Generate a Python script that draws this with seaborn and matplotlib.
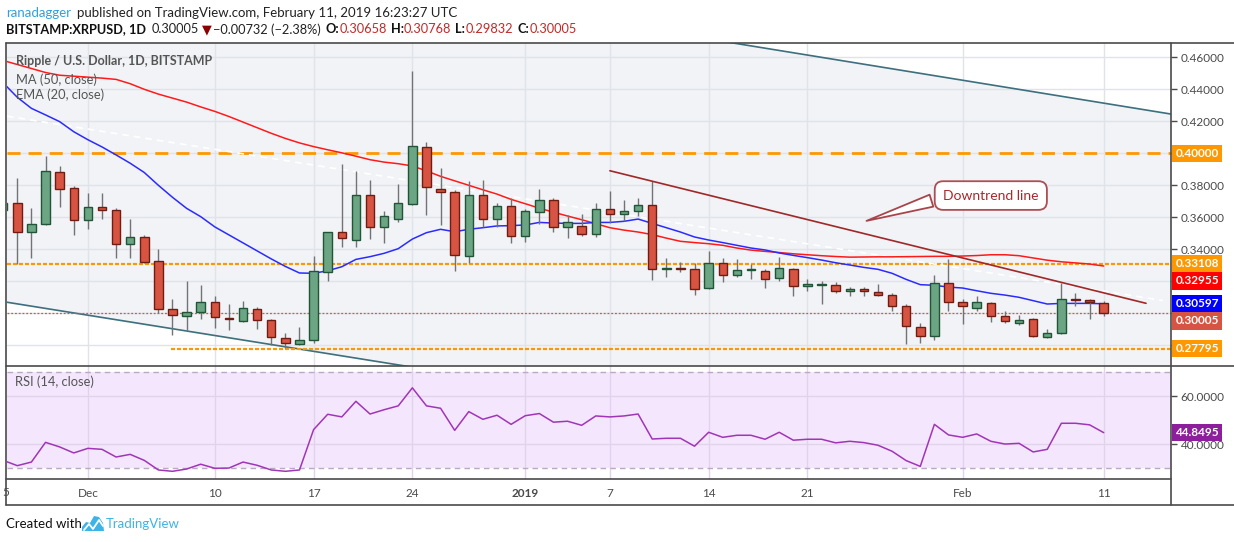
import numpy as np
import pandas as pd
import matplotlib
matplotlib.use('Agg')
import matplotlib.pyplot as plt
import matplotlib.transforms as mtrans
from matplotlib.lines import Line2D
from matplotlib.patches import Polygon
import seaborn as sns

# XRP/USD daily candles, 25 Nov 2018 .. 11 Feb 2019
dates = pd.date_range('2018-11-25', '2019-02-11', freq='D')
opens = [0.3646, 0.3687, 0.3510, 0.3556, 0.3881, 0.3781, 0.3581, 0.3662, 0.3643, 0.3431,
         0.3475, 0.3325, 0.3025, 0.2981, 0.3006, 0.3069, 0.2968, 0.2950, 0.3025, 0.2956,
         0.2843, 0.2806, 0.2831, 0.3256, 0.3506, 0.3456, 0.3737, 0.3537, 0.3587, 0.3681,
         0.4037, 0.3775, 0.3756, 0.3356, 0.3737, 0.3587, 0.3668, 0.3481, 0.3631, 0.3706,
         0.3537, 0.3543, 0.3493, 0.3650, 0.3618, 0.3637, 0.3675, 0.3277, 0.3282, 0.3275,
         0.3156, 0.3312, 0.3237, 0.3268, 0.3262, 0.3218, 0.3275, 0.3168, 0.3175, 0.3175,
         0.3137, 0.3150, 0.3131, 0.3112, 0.3043, 0.2912, 0.2856, 0.3187, 0.3068, 0.3031,
         0.3062, 0.2981, 0.2937, 0.2962, 0.2850, 0.2875, 0.3083, 0.3081, 0.30658]
highs = [0.3720, 0.3846, 0.3658, 0.3983, 0.3921, 0.3796, 0.3750, 0.3750, 0.3656, 0.3589,
         0.3489, 0.3402, 0.3089, 0.3202, 0.3177, 0.3106, 0.3058, 0.3077, 0.3037, 0.2962,
         0.2875, 0.2912, 0.3360, 0.3508, 0.3933, 0.3889, 0.3833, 0.3639, 0.3808, 0.4514,
         0.4071, 0.3908, 0.3768, 0.3825, 0.3833, 0.3687, 0.3718, 0.3650, 0.3775, 0.3718,
         0.3612, 0.3618, 0.3687, 0.3762, 0.3706, 0.3718, 0.3825, 0.3343, 0.3318, 0.3312,
         0.3389, 0.3343, 0.3337, 0.3306, 0.3275, 0.3350, 0.3281, 0.3212, 0.3200, 0.3193,
         0.3162, 0.3162, 0.3181, 0.3125, 0.3056, 0.2937, 0.3237, 0.3337, 0.3087, 0.3106,
         0.3068, 0.3012, 0.2987, 0.2968, 0.2900, 0.3187, 0.3125, 0.3087, 0.30768]
lows = [0.3620, 0.3308, 0.3348, 0.3550, 0.3666, 0.3491, 0.3529, 0.3591, 0.3348, 0.3348,
        0.3315, 0.3000, 0.2862, 0.2896, 0.2962, 0.2910, 0.2898, 0.2944, 0.2904, 0.2802,
        0.2781, 0.2804, 0.2812, 0.3204, 0.3416, 0.3416, 0.3462, 0.3441, 0.3568, 0.3675,
        0.3616, 0.3554, 0.3262, 0.3312, 0.3541, 0.3541, 0.3437, 0.3443, 0.3556, 0.3506,
        0.3468, 0.3481, 0.3475, 0.3562, 0.3575, 0.3606, 0.3206, 0.3229, 0.3256, 0.3112,
        0.3150, 0.3193, 0.3225, 0.3212, 0.3156, 0.3200, 0.3106, 0.3137, 0.3056, 0.3125,
        0.3106, 0.3106, 0.3110, 0.3012, 0.2806, 0.2812, 0.2831, 0.3012, 0.2931, 0.3012,
        0.2943, 0.2937, 0.2925, 0.2850, 0.2848, 0.2868, 0.3043, 0.2962, 0.29832]
closes = [0.3687, 0.3510, 0.3556, 0.3887, 0.3775, 0.3581, 0.3662, 0.3643, 0.3431, 0.3475,
          0.3318, 0.3025, 0.2987, 0.3006, 0.3069, 0.2975, 0.2966, 0.3031, 0.2956, 0.2850,
          0.2812, 0.2831, 0.3262, 0.3506, 0.3468, 0.3737, 0.3537, 0.3606, 0.3687, 0.4043,
          0.3787, 0.3756, 0.3362, 0.3737, 0.3587, 0.3668, 0.3481, 0.3637, 0.3706, 0.3537,
          0.3568, 0.3493, 0.3650, 0.3618, 0.3637, 0.3675, 0.3275, 0.3280, 0.3279, 0.3150,
          0.3312, 0.3237, 0.3268, 0.3271, 0.3212, 0.3281, 0.3168, 0.3181, 0.3177, 0.3137,
          0.3150, 0.3137, 0.3112, 0.3043, 0.2918, 0.2856, 0.3187, 0.3068, 0.3043, 0.3068,
          0.2981, 0.2950, 0.2956, 0.2856, 0.2875, 0.3087, 0.3081, 0.3068, 0.30005]

ema20 = [0.4440, 0.4350, 0.4281, 0.4240, 0.4198, 0.4135, 0.4085, 0.4040, 0.3990, 0.3938,
         0.3880, 0.3800, 0.3725, 0.3656, 0.3604, 0.3540, 0.3490, 0.3440, 0.3390, 0.3340,
         0.3293, 0.3252, 0.3250, 0.3266, 0.3291, 0.3337, 0.3354, 0.3375, 0.3404, 0.3464,
         0.3504, 0.3525, 0.3510, 0.3525, 0.3535, 0.3546, 0.3548, 0.3552, 0.3568, 0.3564,
         0.3562, 0.3562, 0.3568, 0.3568, 0.3575, 0.3589, 0.3562, 0.3535, 0.3508, 0.3477,
         0.3458, 0.3442, 0.3425, 0.3408, 0.3396, 0.3377, 0.3362, 0.3348, 0.3333, 0.3316,
         0.3302, 0.3287, 0.3275, 0.3250, 0.3212, 0.3179, 0.3175, 0.3164, 0.3158, 0.3141,
         0.3125, 0.3114, 0.3100, 0.3079, 0.3058, 0.3062, 0.3062, 0.3062, 0.30597]
ma50 = [0.4580, 0.4555, 0.4530, 0.4505, 0.4488, 0.4482, 0.4476, 0.4470, 0.4462, 0.4435,
        0.4400, 0.4370, 0.4345, 0.4320, 0.4290, 0.4262, 0.4230, 0.4195, 0.4160, 0.4125,
        0.4093, 0.4065, 0.4042, 0.4022, 0.4003, 0.3982, 0.3960, 0.3945, 0.3935, 0.3921,
        0.3890, 0.3856, 0.3828, 0.3800, 0.3772, 0.3745, 0.3712, 0.3685, 0.3657, 0.3632,
        0.3608, 0.3585, 0.3560, 0.3535, 0.3520, 0.3508, 0.3492, 0.3470, 0.3450, 0.3442,
        0.3435, 0.3425, 0.3408, 0.3395, 0.3387, 0.3380, 0.3372, 0.3366, 0.3360, 0.3355,
        0.3351, 0.3352, 0.3353, 0.3353, 0.3354, 0.3355, 0.3356, 0.3356, 0.3358, 0.3361,
        0.3366, 0.3366, 0.3360, 0.3346, 0.3332, 0.3322, 0.3315, 0.3308, 0.32955]
rsi = [33.3, 31.1, 32.6, 40.8, 38.9, 36.4, 38.3, 37.9, 34.7, 35.8,
       33.3, 29.3, 28.75, 29.7, 31.7, 30.0, 30.1, 32.6, 31.25, 29.3,
       28.75, 29.3, 46.1, 52.5, 51.4, 57.9, 52.6, 54.4, 56.0, 63.5,
       56.0, 55.0, 45.8, 53.6, 50.4, 52.1, 48.3, 51.9, 52.8, 49.2,
       49.6, 47.9, 51.8, 51.4, 51.8, 52.6, 42.2, 42.5, 42.5, 39.2,
       45.0, 42.9, 43.75, 43.75, 42.1, 45.0, 41.7, 42.1, 42.1, 40.6,
       41.25, 40.7, 39.6, 37.1, 33.2, 30.8, 48.3, 43.9, 42.9, 44.3,
       41.25, 40.1, 40.4, 36.8, 37.9, 48.75, 48.75, 48.1, 44.8495]

# drawn levels and trend lines (day index, price)
level_400 = 0.40000
level_331 = 0.33108
level_278 = 0.27795
level_278_from = 11.9
downtrend_x = [43.0, 81.0]
downtrend_y = [0.3891, 0.30625]
channel_x = [0, 83]
channel_top = [0.5430, 0.4242]
channel_bot = [0.3073, 0.1901]
white_x = [0.27, 82.2]
white_y = [0.4232, 0.3080]

tick_days = [6, 15, 22, 29, 37, 43, 50, 57, 68, 78]
tick_labels = ['Dec', '10', '17', '24', '2019', '7', '14', '21', 'Feb', '11']

df = pd.DataFrame({'day': np.arange(len(dates)), 'open': opens, 'high': highs,
                   'low': lows, 'close': closes, 'ema20': ema20, 'ma50': ma50, 'rsi': rsi})

sns.set_theme(style='white')
plt.rcParams['font.family'] = ['Lato', 'DejaVu Sans']

GREEN, GREEN_EDGE = '#6ba583', '#225437'
RED, RED_EDGE = '#d75442', '#6f1d12'
WICK = '#737375'
ORANGE = '#ff9800'
TXT = '#4a4a4a'
GRID = '#e1e3ea'

W, H = 1234, 542
fig = plt.figure(figsize=(W / 100, H / 100), dpi=100)
fig.patch.set_facecolor('white')

def fx(px):
    return px / W

def fy(py):
    return 1 - py / H

ax_p = fig.add_axes([fx(7), fy(365.5), fx(1171) - fx(7), fy(42.7) - fy(365.5)])
ax_r = fig.add_axes([fx(7), fy(478.5), fx(1171) - fx(7), fy(366) - fy(478.5)])

# ---- price panel ----
ax_p.set_facecolor('white')
ax_p.fill_between(channel_x, channel_bot, channel_top, color='#f1f3f6', zorder=0, lw=0)
ax_p.plot(channel_x, channel_top, color='#3d6f7d', lw=1.2, zorder=1)
ax_p.plot(channel_x, channel_bot, color='#3d6f7d', lw=1.2, zorder=1)

ax_p.axhline(level_400, color=ORANGE, lw=2, ls=(0, (4.7, 2.9)), zorder=1.5)
ax_p.axhline(level_331, color=ORANGE, lw=1.6, ls=(0, (1.8, 0.9)), zorder=1.5)
ax_p.hlines(level_278, level_278_from, 90, color=ORANGE, lw=1.6, ls=(0, (1.8, 0.9)), zorder=1.5)
ax_p.axhline(closes[-1], color=RED, lw=0.9, ls=(0, (1.5, 1.5)), zorder=1.5)
ax_p.plot(white_x, white_y, color='white', lw=1.2, ls=(0, (4, 3)), zorder=1.6)

sns.lineplot(data=df, x='day', y='ma50', ax=ax_p, color='#ff1a1a', lw=1.1, zorder=2)
sns.lineplot(data=df, x='day', y='ema20', ax=ax_p, color='#2b2bff', lw=1.1, zorder=2)

up = df['close'] >= df['open']
body_h = (df['close'] - df['open']).abs().clip(lower=0.0006)
body_b = df[['open', 'close']].min(axis=1)
ax_p.vlines(df['day'], df['low'], df['high'], color=WICK, lw=1, zorder=3)
ax_p.bar(df['day'][up], body_h[up], bottom=body_b[up], width=0.6,
         color=GREEN, edgecolor=GREEN_EDGE, lw=1, zorder=4)
ax_p.bar(df['day'][~up], body_h[~up], bottom=body_b[~up], width=0.6,
         color=RED, edgecolor=RED_EDGE, lw=1, zorder=4)

ax_p.plot(downtrend_x, downtrend_y, color='#a02828', lw=1.2, zorder=5)

ax_p.annotate('Downtrend line', xy=(61.0, 0.35725), xytext=(70.0, 0.3736),
              ha='center', va='center', fontsize=10, color='#a8282d', zorder=8,
              bbox=dict(boxstyle='round,pad=0.6,rounding_size=0.6', fc='white', ec='#a8454a', lw=1.3, alpha=0.95),
              arrowprops=dict(arrowstyle='wedge,tail_width=0.9,shrink_factor=0.5', fc='white',
                              ec='#a8454a', lw=1.3, relpos=(0.05, 0.5)))

ax_p.set_xlim(0.27, 82.77)
ax_p.set_ylim(0.26738, 0.46913)
ax_p.set_xticks(tick_days)
ax_p.set_xticklabels([])
ytick_vals = np.round(np.arange(0.28, 0.4601, 0.02), 2)
ax_p.set_yticks(ytick_vals)
# 0.28-0.32 and 0.40 are hidden behind the coloured price tags
ax_p.set_yticklabels(['' if (v < 0.335 or abs(v - 0.40) < 1e-9) else '%.5f' % v for v in ytick_vals])
ax_p.yaxis.tick_right()
ax_p.tick_params(axis='y', length=4, width=1, color=TXT, labelsize=8.5, labelcolor=TXT, pad=3)
ax_p.tick_params(axis='x', length=0)
ax_p.grid(True, color=GRID, lw=1, zorder=0.5)
ax_p.set_axisbelow(True)
ax_p.set_xlabel('')
ax_p.set_ylabel('')
for s in ax_p.spines.values():
    s.set_visible(False)

trans_p = mtrans.blended_transform_factory(ax_p.transAxes, ax_p.transData)
price_tags = [(0.40000, '0.40000', ORANGE, 0.0),
              (0.33108, '0.33108', ORANGE, 0.0),
              (0.32955, '0.32955', '#ff0000', -0.0092),
              (0.30597, '0.30597', '#0000ff', 0.0),
              (0.30005, '0.30005', '#d75442', -0.0048),
              (0.27795, '0.27795', ORANGE, 0.0)]
for val, txt, col, nudge in price_tags:
    ax_p.text(1.0 + 4.5 / 1164, val + nudge, txt, transform=trans_p, ha='left', va='center',
              fontsize=8.5, color='white', fontweight='bold', clip_on=False, zorder=10,
              bbox=dict(boxstyle='square,pad=0.28', fc=col, ec='none'))

ax_p.text(8.8 / 1164, 0.45769, 'Ripple / U.S. Dollar, 1D, BITSTAMP', transform=trans_p,
          fontsize=9, color='#555555', fontweight='bold', va='center')
ax_p.text(8.8 / 1164, 0.44625, 'MA (50, close)', transform=trans_p,
          fontsize=9.3, color='#555555', va='center')
ax_p.text(8.8 / 1164, 0.43688, 'EMA (20, close)', transform=trans_p,
          fontsize=9.3, color='#555555', va='center')

# ---- RSI panel ----
ax_r.set_facecolor('white')
ax_r.axhspan(30, 70, color='#f4e6fc', zorder=0, lw=0)
ax_r.axhline(70, color='#b9a9c2', lw=1, ls=(0, (4, 3)), zorder=1)
ax_r.axhline(30, color='#b9a9c2', lw=1, ls=(0, (4, 3)), zorder=1)
sns.lineplot(data=df, x='day', y='rsi', ax=ax_r, color='#a035b8', lw=1.1, zorder=3)
ax_r.set_xlim(0.27, 82.77)
ax_r.set_ylim(25.75, 72.6)
ax_r.set_xticks(tick_days)
ax_r.set_xticklabels(tick_labels)
for lab in ax_r.get_xticklabels():
    if lab.get_text() == '2019':
        lab.set_fontweight('bold')
ax_r.set_yticks([40, 60])
ax_r.set_yticklabels(['40.0000', '60.0000'])
ax_r.yaxis.tick_right()
ax_r.tick_params(axis='y', length=4, width=1, color=TXT, labelsize=8.5, labelcolor=TXT, pad=3)
ax_r.tick_params(axis='x', length=0, labelsize=8.5, labelcolor=TXT, pad=7)
ax_r.grid(True, color='#e2d3ec', lw=1, zorder=0.5)
ax_r.set_axisbelow(True)
ax_r.set_xlabel('')
ax_r.set_ylabel('')
for s in ax_r.spines.values():
    s.set_visible(False)
trans_r = mtrans.blended_transform_factory(ax_r.transAxes, ax_r.transData)
ax_r.text(8.3 / 1164, 66.0, 'RSI (14, close)', transform=trans_r,
          fontsize=9.3, color='#555555', va='center')
ax_r.text(1.0 + 4.5 / 1164, rsi[-1], '%.4f' % rsi[-1], transform=trans_r, ha='left', va='center',
          fontsize=8.5, color='white', fontweight='bold', clip_on=False, zorder=10,
          bbox=dict(boxstyle='square,pad=0.28', fc='#8e1f9c', ec='none'))

# the "25" (Nov 25) label is cut by the left edge, only its "5" shows
fig.text(fx(5.5), fy(493), '5', ha='center', va='center', fontsize=8.5, color=TXT)

# ---- frame ----
FRAME = '#4a4a4a'
for x0, y0, x1, y1 in [(6.3, 42.7, 1234, 42.7), (6.3, 366, 1234, 366), (6.3, 478.5, 1171, 478.5),
                       (6.3, 505, 1234, 505), (6.3, 42.7, 6.3, 505), (1171, 42.7, 1171, 505)]:
    fig.add_artist(Line2D([fx(x0), fx(x1)], [fy(y0), fy(y1)], color=FRAME, lw=1.2))

# ---- header ----
fig.text(fx(6), fy(13.3), 'ranadagger', color='#2f9fe0', fontsize=9.5, va='center')
fig.text(fx(77), fy(13.3), 'published on TradingView.com, February 11, 2019 16:23:27 UTC',
         color='#222222', fontsize=9.5, va='center')

renderer = fig.canvas.get_renderer()
hdr = [('BITSTAMP:XRPUSD, 1D', '#111111', 'bold', 5),
       ('0.30005', '#222222', 'normal', 3),
       ('\u25bc', '#8b0000', 'normal', 2),
       ('\u22120.00732 (\u22122.38%)', '#222222', 'normal', 4),
       ('O:', '#111111', 'bold', 0.5),
       ('0.30658', '#c62828', 'normal', 4),
       ('H:', '#111111', 'bold', 0.5),
       ('0.30768', '#c62828', 'normal', 4),
       ('L:', '#111111', 'bold', 0.5),
       ('0.29832', '#c62828', 'normal', 4),
       ('C:', '#111111', 'bold', 0.5),
       ('0.30005', '#c62828', 'normal', 0)]
xcur = 6.3
for t, c, w, gap in hdr:
    tx = fig.text(fx(xcur), fy(29.3), t, color=c, fontsize=9.2, fontweight=w, va='center',
                  family=['Lato', 'DejaVu Sans'])
    xcur += tx.get_window_extent(renderer).width + gap

# ---- footer ----
fig.text(fx(6), fy(524), 'Created with', color='#111111', fontsize=9.5, va='center')
logo = Polygon([(fx(82), fy(531)), (fx(82), fy(527)), (fx(86), fy(522)), (fx(90), fy(523)),
                (fx(94), fy(516)), (fx(99), fy(517)), (fx(103), fy(523)), (fx(104), fy(531))],
               closed=True, transform=fig.transFigure, fc='#3cb4e6', ec='none')
fig.add_artist(logo)
fig.add_artist(Line2D([fx(84), fx(89), fx(93), fx(99), fx(103)],
                      [fy(530), fy(524), fy(529), fy(520), fy(526)], color='white', lw=1.3))
fig.text(fx(106), fy(524), 'TradingView', color='#3cb4e6', fontsize=9.5, va='center')

fig.savefig('out.png', dpi=100)
